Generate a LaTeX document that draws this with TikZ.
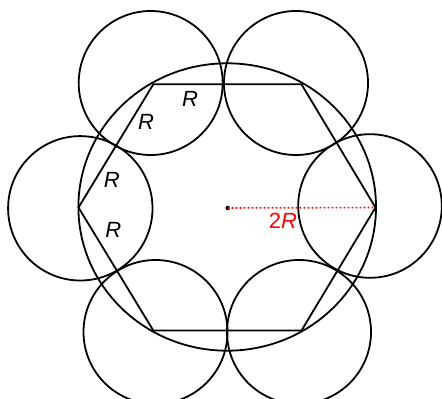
\documentclass[tikz,border=0pt]{standalone}
\usepackage{fontspec}
\setmainfont{Liberation Sans}
\begin{document}
\begin{tikzpicture}[x=1pt,y=-1pt,
  line/.style={line width=1.8pt,black},
  lab/.style={inner sep=0pt,font=\fontsize{22}{26}\selectfont\itshape},
  redlab/.style={lab,text=red},
  dotline/.style={red,line width=1.6pt,dash pattern=on 1.6pt off 2.4pt},
  cdot/.style={circle,fill=black,inner sep=0pt,minimum size=4.5pt}]
\useasboundingbox (0,0) rectangle (442,399);
\clip (0,0) rectangle (442,399);
% hexagon vertices
\coordinate (v0) at (375.5,207.5);
\coordinate (v1) at (301.5,84.3);
\coordinate (v2) at (153.3,84.3);
\coordinate (v3) at (78.5,207.5);
\coordinate (v4) at (153.3,330.5);
\coordinate (v5) at (301.5,330.5);
% small circles
\draw[line] (150.7,83) circle (72pt);
\draw[line] (296,83) circle (72pt);
\draw[line] (370,206) circle (71.8pt);
\draw[line] (80.3,208.3) circle (72.2pt);
\draw[line] (155.5,332) circle (72pt);
\draw[line] (299,332) circle (72pt);
% big circle
\draw[line] (227.2,207) ellipse [x radius=148.8pt, y radius=143.7pt];
% hexagon
\draw[line,line join=miter] (v0) -- (v1) -- (v2) -- (v3) -- (v4) -- (v5) -- cycle;
% centre and radius
\node[cdot] (c) at (227.7,208) {};
\draw[dotline] (c.center) -- (v0);
\node[redlab] (l2r) at (283,220.7) {\textup{2}R};
% labels
\node[lab] (r1) at (190,99) {R};
\node[lab] (r2) at (146,122) {R};
\node[lab] (r3) at (111.7,180) {R};
\node[lab] (r4) at (113.3,230) {R};
\end{tikzpicture}
\end{document}
